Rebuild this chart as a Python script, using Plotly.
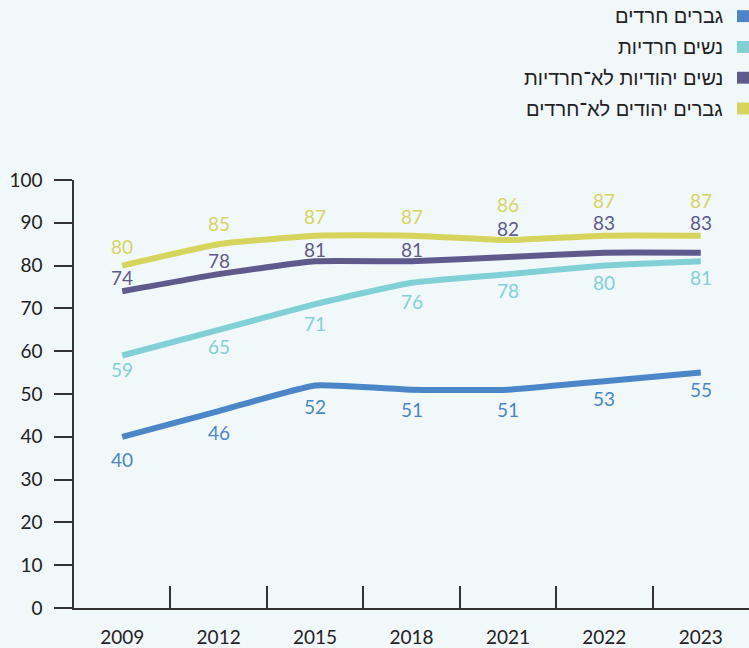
import plotly.graph_objects as go

years = ["2009", "2012", "2015", "2018", "2021", "2022", "2023"]
series_names = [
    "גברים חרדים",
    "נשים חרדיות",
    "נשים יהודיות לא־חרדיות",
    "גברים יהודים לא־חרדים",
]
haredi_men = [40, 46, 52, 51, 51, 53, 55]
haredi_women = [59, 65, 71, 76, 78, 80, 81]
nonharedi_women = [74, 78, 81, 81, 82, 83, 83]
nonharedi_men = [80, 85, 87, 87, 86, 87, 87]
y_ticks = [0, 10, 20, 30, 40, 50, 60, 70, 80, 90, 100]

series_values = [haredi_men, haredi_women, nonharedi_women, nonharedi_men]
colors = ["#4a86c8", "#80d0d6", "#5f5a8c", "#d7d45e"]
# label pixel offsets (negative = below the point, in plotly yshift sense)
label_shift = [
    [-23, -21, -21, -20, -20, -17, -17],
    [-14, -17, -19, -19, -16, -17, -16],
    [14, 14, 12, 12, 29, 30, 30],
    [19, 21, 19, 19, 35, 35, 35],
]

BG = "#f1f8fa"
FONT = "Lato, 'Liberation Sans', sans-serif"
NUM_SIZE = 19

fig = go.Figure()
for name, vals, col in zip(series_names, series_values, colors):
    fig.add_trace(go.Scatter(
        x=years, y=vals, mode="lines", name=name,
        line=dict(color=col, width=6, shape="spline", smoothing=0.4),
        showlegend=False, hoverinfo="x+y",
    ))

annotations = []
for vals, col, shifts in zip(series_values, colors, label_shift):
    for i, (v, s) in enumerate(zip(vals, shifts)):
        annotations.append(dict(
            x=i, y=v, xref="x", yref="y", text=str(v), showarrow=False,
            yshift=s, font=dict(family=FONT, size=NUM_SIZE, color=col),
        ))

W, H = 749, 648
ml, mr, mt, mb = 74, 0, 180, 37
pw, ph = W - ml - mr, H - mt - mb
def px_to_paper_x(px):
    return (px - ml) / pw
def px_to_paper_y(py):
    return (H - mb - py) / ph

# legend (symbol on the right, RTL text)
legend_y = [15, 46, 77, 108]
shapes = []
for name, col, ly in zip(series_names, colors, legend_y):
    annotations.append(dict(
        x=px_to_paper_x(725), y=px_to_paper_y(ly), xref="paper", yref="paper",
        text=name, showarrow=False, xanchor="right", yanchor="middle",
        font=dict(family="'Liberation Sans', Arial, sans-serif", size=20, color="#222222"),
    ))
    shapes.append(dict(type="rect", xref="paper", yref="paper",
                       x0=px_to_paper_x(737), x1=px_to_paper_x(749),
                       y0=px_to_paper_y(ly + 6), y1=px_to_paper_y(ly - 6),
                       fillcolor=col, line=dict(width=0)))

fig.update_layout(
    width=W, height=H,
    margin=dict(l=ml, r=mr, t=mt, b=mb),
    paper_bgcolor=BG, plot_bgcolor=BG,
    font=dict(family=FONT, size=NUM_SIZE, color="#222222"),
    annotations=annotations, shapes=shapes,
    showlegend=False,
)
fig.update_xaxes(
    type="category", range=[-0.5, len(years) - 0.5], autorange=False,
    tickson="boundaries", ticks="inside", ticklen=22,
    tickwidth=1.5, tickcolor="#333333",
    showline=True, linecolor="#333333", linewidth=1.5,
    showgrid=False, zeroline=False, ticklabelstandoff=11,
    tickfont=dict(family=FONT, size=NUM_SIZE, color="#222222"),
)
fig.update_yaxes(
    range=[0, 100], autorange=False, tickvals=y_ticks, ticks="outside", ticklen=18,
    tickwidth=1.5, tickcolor="#333333",
    showline=True, linecolor="#333333", linewidth=1.5,
    showgrid=False, zeroline=False, ticklabelstandoff=8,
    tickfont=dict(family=FONT, size=NUM_SIZE, color="#222222"),
)

fig.write_html(
    "out.html",
    config={"displayModeBar": False},
    post_script="document.body.style.margin='0';document.body.style.background='%s';" % BG,
)
